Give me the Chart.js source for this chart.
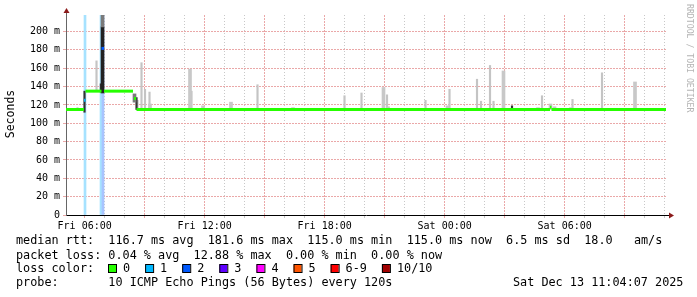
<!DOCTYPE html>
<html>
<head>
<meta charset="utf-8">
<script src="https://cdn.jsdelivr.net/npm/chart.js@4.4.1/dist/chart.umd.min.js"></script>
<style>
  html, body { margin: 0; padding: 0; background: #fff; }
  canvas { display: block; }
</style>
</head>
<body>
<canvas id="smokeChart" width="697" height="297"></canvas>
<script>
// time is in hours counted from Fri 00:00, values in milliseconds
const startHour = 5.0667;
const endHour = 35.0667;
const topValue = 218;

const hourTicks = [6, 7, 8, 9, 10, 11, 12, 13, 14, 15, 16, 17, 18, 19, 20,
  21, 22, 23, 24, 25, 26, 27, 28, 29, 30, 31, 32, 33, 34, 35];
const labelHours = [6, 12, 18, 24, 30];
const labelTexts = ["Fri 06:00", "Fri 12:00", "Fri 18:00", "Sat 00:00", "Sat 06:00"];
const valueTicks = [0, 10, 20, 30, 40, 50, 60, 70, 80, 90, 100, 110, 120,
  130, 140, 150, 160, 170, 180, 190, 200, 210];

// median rtt, one flat piece per entry
const medianStart = [5.0667, 5.967, 6.042, 6.840, 6.967, 8.467, 8.592, 29.267, 29.342];
const medianEnd   = [5.967, 6.042, 6.840, 6.967, 8.417, 8.567, 29.267, 29.342, 35.0667];
const medianValue = [115, 125, 135, 181.6, 135, 127, 115, 117.5, 115];
const medianLoss  = [0, 1, 0, 2, 0, 0, 0, 0, 0];

// packet loss background bars
const lossTime  = [6.017, 6.817, 6.917];
const lossLevel = [1, 1, 2];

// light smoke, thin strokes
const smokeTime = [5.642, 6.592, 8.642, 8.842, 9.017, 9.242, 11.342, 14.642,
  18.992, 19.842, 21.117, 23.042, 24.242, 25.617, 25.817, 26.267, 26.442,
  28.867, 30.392, 31.867];
const smokeLow  = [115, 135, 115, 115, 115, 115, 115, 115, 115, 115, 115, 115,
  115, 115, 115, 115, 115, 115, 115, 115];
const smokeHigh = [117, 168, 125, 166, 137, 134, 135, 142, 130, 133, 131, 125,
  137, 148, 124, 163, 124, 130, 126, 155];

// light smoke, wider strokes
const wideSmokeTime = [9.267, 11.267, 11.917, 13.317, 16.417, 20.942, 21.167,
  24.142, 26.942, 28.667, 29.292, 29.492, 30.317, 33.517];
const wideSmokeLow  = [115, 115, 115, 115, 115, 115, 115, 115, 115, 115, 115,
  115, 115, 115];
const wideSmokeHigh = [121, 159, 119, 123, 117, 139, 118, 119, 157, 117, 121,
  118, 117, 145];

// dense smoke around the loss burst
const darkTime = [5.992, 6.809, 8.592, 27.367];
const darkLow  = [112, 134, 115, 115];
const darkHigh = [135, 143, 128, 119];
const darkWideTime = [6.892];
const darkWideLow  = [133];
const darkWideHigh = [205];
const greySmokeTime = [6.892, 8.492];
const greySmokeLow  = [205, 123];
const greySmokeHigh = [218, 132];

const lossNames  = ["0", "1", "2", "3", "4", "5", "6-9", "10/10"];
const lossColors = ["#26ff00", "#00b8ff", "#0059ff", "#5e00ff", "#ff00ff", "#ff5500", "#ff0000", "#a10000"];
const lossTints  = ["#c8ffc0", "#a6e2ff", "#a8c4ff"];

const rttLine  = "median rtt:  116.7 ms avg  181.6 ms max  115.0 ms min  115.0 ms now  6.5 ms sd  18.0   am/s";
const lossLine = "packet loss: 0.04 % avg  12.88 % max  0.00 % min  0.00 % now";
const probeLine = "probe:       10 ICMP Echo Pings (56 Bytes) every 120s";
const stampText = "Sat Dec 13 11:04:07 2025";

const mono = "'DejaVu Sans Mono', 'Liberation Mono', monospace";
const minorGrid = "#c8c8c8";
const majorGrid = "#eaa8a8";

function floating(times, lows, highs) {
  return times.map((t, i) => ({ x: t, y: [lows[i], highs[i]] }));
}

const medianPoints = [];
const medianPointLoss = [];
medianStart.forEach((s, i) => {
  medianPoints.push({ x: s, y: medianValue[i] });
  medianPoints.push({ x: medianEnd[i], y: medianValue[i] });
  medianPoints.push({ x: medianEnd[i], y: null });
  medianPointLoss.push(medianLoss[i], medianLoss[i], medianLoss[i]);
});

function barSet(data, color, thickness, order) {
  return {
    type: "bar",
    data: data,
    backgroundColor: color,
    borderWidth: 0,
    barThickness: thickness,
    grouped: false,
    order: order,
  };
}

const extras = {
  id: "extras",
  beforeDraw(chart) {
    const ctx = chart.ctx;
    ctx.save();
    ctx.fillStyle = "#fff";
    ctx.fillRect(0, 0, chart.width, chart.height);
    ctx.restore();
  },
  afterDraw(chart) {
    const ctx = chart.ctx;
    const area = chart.chartArea;
    ctx.save();

    // axis extensions and arrows
    ctx.strokeStyle = "#666";
    ctx.lineWidth = 1;
    ctx.beginPath();
    ctx.moveTo(area.left + 0.5, area.top);
    ctx.lineTo(area.left + 0.5, 12);
    ctx.stroke();
    ctx.strokeStyle = "#000";
    ctx.beginPath();
    ctx.moveTo(area.right, area.bottom + 0.5);
    ctx.lineTo(area.right + 4, area.bottom + 0.5);
    ctx.stroke();
    ctx.fillStyle = "#8b1a1a";
    ctx.beginPath();
    ctx.moveTo(area.left + 0.5, 8);
    ctx.lineTo(area.left + 3.5, 13);
    ctx.lineTo(area.left - 2.5, 13);
    ctx.closePath();
    ctx.fill();
    ctx.beginPath();
    ctx.moveTo(area.right + 8, area.bottom + 0.5);
    ctx.lineTo(area.right + 3, area.bottom - 2.5);
    ctx.lineTo(area.right + 3, area.bottom + 3.5);
    ctx.closePath();
    ctx.fill();

    // y title
    ctx.fillStyle = "#000";
    ctx.font = "11.5px " + mono;
    ctx.textAlign = "center";
    ctx.textBaseline = "middle";
    ctx.save();
    ctx.translate(11, 114);
    ctx.rotate(-Math.PI / 2);
    ctx.fillText("Seconds", 0, 0);
    ctx.restore();

    // watermark
    ctx.save();
    ctx.fillStyle = "#b4b4b4";
    ctx.font = "8.2px " + mono;
    ctx.textAlign = "left";
    ctx.translate(689, 4);
    ctx.rotate(Math.PI / 2);
    ctx.fillText("RRDTOOL / TOBI OETIKER", 0, 0);
    ctx.restore();

    // legend block
    ctx.font = "11.8px " + mono;
    ctx.textAlign = "left";
    ctx.fillStyle = "#000";
    ctx.fillText(rttLine, 16, 241);
    ctx.fillText(lossLine, 16, 255.5);
    ctx.fillText("loss color:", 16, 269);
    ctx.fillText(probeLine, 16, 283);
    ctx.fillText(stampText, 513, 283);

    let x = 108;
    lossNames.forEach((name, i) => {
      ctx.fillStyle = lossColors[i];
      ctx.fillRect(x, 264.5, 8, 8);
      ctx.strokeStyle = "#000";
      ctx.strokeRect(x + 0.5, 264.5, 8, 8);
      ctx.fillStyle = "#000";
      ctx.fillText(name, x + 15, 269);
      x += 15 + ctx.measureText(name).width + 15;
    });
    ctx.restore();
  },
};

function gridColor(ctx, major) {
  if (!ctx.tick) return "#000";
  return ctx.tick.value % major === 0 ? majorGrid : minorGrid;
}
function gridDash(ctx, major) {
  if (!ctx.tick) return [];
  return ctx.tick.value % major === 0 ? [2, 1] : [1, 2];
}

new Chart(document.getElementById("smokeChart"), {
  type: "bar",
  data: {
    datasets: [
      {
        type: "line",
        data: medianPoints,
        borderColor: lossColors[0],
        borderWidth: 3,
        borderCapStyle: "butt",
        pointRadius: 0,
        spanGaps: false,
        segment: {
          borderColor: (ctx) => lossColors[medianPointLoss[ctx.p0DataIndex]],
        },
        order: 1,
      },
      barSet(floating(greySmokeTime, greySmokeLow, greySmokeHigh), "#7a7a7a", 3, 2),
      barSet(floating(darkWideTime, darkWideLow, darkWideHigh), "#222", 3, 2),
      barSet(floating(darkTime, darkLow, darkHigh), "#333", 1.5, 2),
      barSet(floating(wideSmokeTime, wideSmokeLow, wideSmokeHigh), "#c8c8c8", 3, 3),
      barSet(floating(smokeTime, smokeLow, smokeHigh), "#c4c4c4", 1.5, 3),
      {
        type: "bar",
        data: lossTime.map((t) => ({ x: t, y: [0, topValue] })),
        backgroundColor: (ctx) => lossTints[lossLevel[ctx.dataIndex]],
        borderWidth: 0,
        barThickness: 2,
        grouped: false,
        order: 5,
      },
    ],
  },
  options: {
    responsive: false,
    animation: false,
    devicePixelRatio: 1,
    layout: { padding: { top: 15, right: 31, bottom: 0, left: 0 } },
    plugins: { legend: { display: false }, tooltip: { enabled: false } },
    scales: {
      x: {
        type: "linear",
        min: startHour,
        max: endHour,
        offset: false,
        afterBuildTicks: (axis) => {
          axis.ticks = hourTicks.map((v) => ({ value: v }));
        },
        afterFit: (axis) => {
          axis.height = 82;
        },
        grid: {
          offset: false,
          tickLength: 3,
          lineWidth: 1,
          color: (ctx) => gridColor(ctx, 3),
        },
        border: { color: "#000", width: 1, dash: (ctx) => gridDash(ctx, 3) },
        ticks: {
          autoSkip: false,
          maxRotation: 0,
          padding: 2,
          color: "#000",
          font: { family: mono, size: 10 },
          callback: (v) => {
            const i = labelHours.indexOf(v);
            return i >= 0 ? labelTexts[i] : "";
          },
        },
      },
      y: {
        min: 0,
        max: topValue,
        afterBuildTicks: (axis) => {
          axis.ticks = valueTicks.map((v) => ({ value: v }));
        },
        afterFit: (axis) => {
          axis.width = 66;
        },
        grid: {
          tickLength: 3,
          lineWidth: 1,
          color: (ctx) => gridColor(ctx, 20),
        },
        border: { color: "#666", width: 1, dash: (ctx) => gridDash(ctx, 20) },
        ticks: {
          padding: 3,
          color: "#000",
          font: { family: mono, size: 10 },
          callback: (v) => (v % 20 === 0 ? (v === 0 ? "0" : v + " m") : ""),
        },
      },
    },
  },
  plugins: [extras],
});
</script>
</body>
</html>
